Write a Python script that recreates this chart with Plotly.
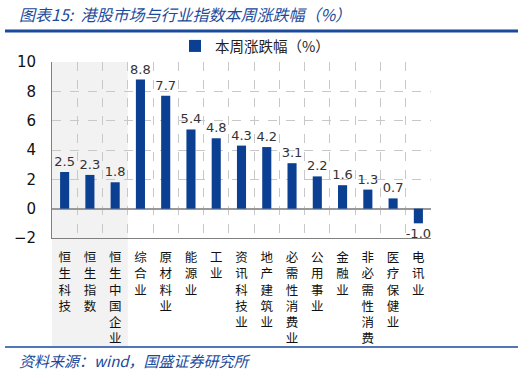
import plotly.graph_objects as go

categories = ["恒生科技", "恒生指数", "恒生中国企业", "综合业", "原材料业", "能源业", "工业",
              "资讯科技业", "地产建筑业", "必需性消费业", "公用事业", "金融业", "非必需性消费",
              "医疗保健业", "电讯业"]
values = [2.5, 2.3, 1.8, 8.8, 7.7, 5.4, 4.8, 4.3, 4.2, 3.1, 2.2, 1.6, 1.3, 0.7, -1.0]
series_name = "本周涨跌幅（%）"
y_ticks = [-2, 0, 2, 4, 6, 8, 10]
shaded = categories[:3]

CJK = "Noto Sans CJK SC"
BLUE = "#1a4a9c"
BAR = "#0b3f91"

W, H = 526, 374
L, R, T, B = 52, 95, 62, 136

fig = go.Figure()
fig.add_trace(go.Bar(
    x=categories, y=values, name=series_name,
    marker=dict(color=BAR, line=dict(width=0)),
    text=[f"{v:.1f}" for v in values], textposition="outside",
    constraintext="none",
    textfont=dict(family="DejaVu Sans, Verdana", size=13, color="#333333"),
    cliponaxis=False, showlegend=True,
))

ticktext = ["<br>".join(list(c)) for c in categories]

fig.update_layout(
    width=W, height=H, margin=dict(l=L, r=R, t=T, b=B),
    paper_bgcolor="white", plot_bgcolor="rgba(0,0,0,0)",
    bargap=0.64,
    showlegend=True,
    legend=dict(x=(175 - L) / (W - L - R), y=1, xanchor="left", yanchor="bottom",
                orientation="h", font=dict(family=CJK, size=14.5, color="#222222"),
                bgcolor="rgba(0,0,0,0)", itemwidth=30),
    xaxis=dict(
        type="category", categoryorder="array", categoryarray=categories,
        tickmode="array", tickvals=categories, ticktext=ticktext,
        tickson="boundaries", ticks="", tickangle=0,
        tickfont=dict(family="DejaVu Sans, Noto Sans CJK SC", size=12.5, color="#111111"),
        showgrid=True, gridcolor="#c8c8c8", griddash="dash", gridwidth=1,
        showline=True, linecolor="#808080", linewidth=1,
        ticklabelstandoff=8,
    ),
    yaxis=dict(
        range=[-2, 10], tickvals=y_ticks, ticks="",
        tickfont=dict(family="DejaVu Sans, Verdana", size=15, color="#111111"),
        showgrid=True, gridcolor="#c8c8c8", griddash="dash", gridwidth=1,
        zeroline=True, zerolinecolor="#999999", zerolinewidth=1.5,
        showline=True, linecolor="#808080", linewidth=1,
        ticklabelstandoff=12,
    ),
)

# shaded background for Hang Seng indices
fig.add_shape(type="rect", xref="x", yref="paper",
              x0=-0.5, x1=len(shaded) - 0.5,
              y0=-(347 - (H - B)) / (H - T - B), y1=1,
              fillcolor="#f2f2f2", line=dict(width=0), layer="below")

# header / footer decoration
fig.add_shape(type="line", xref="paper", yref="paper",
              x0=-(L - 5) / (W - L - R), x1=(518 - L) / (W - L - R),
              y0=1 + (T - 31) / (H - T - B), y1=1 + (T - 31) / (H - T - B),
              line=dict(color=BLUE, width=3))
fig.add_shape(type="line", xref="paper", yref="paper",
              x0=-(L - 5) / (W - L - R), x1=(518 - L) / (W - L - R),
              y0=-(347 - (H - B)) / (H - T - B), y1=-(347 - (H - B)) / (H - T - B),
              line=dict(color=BLUE, width=1.5))

fig.add_annotation(text="<i>图表15:  港股市场与行业指数本周涨跌幅（%）</i>",
                   xref="paper", yref="paper", x=-(L - 17) / (W - L - R),
                   y=1 + (T - 14) / (H - T - B), xanchor="left", yanchor="middle",
                   showarrow=False, font=dict(family=CJK, size=16, color=BLUE))
fig.add_annotation(text="<i>资料来源：wind，国盛证券研究所</i>",
                   xref="paper", yref="paper", x=-(L - 17) / (W - L - R),
                   y=-(360 - (H - B)) / (H - T - B), xanchor="left", yanchor="middle",
                   showarrow=False, font=dict(family=CJK, size=15, color=BLUE))

fig.write_html("out.html")
